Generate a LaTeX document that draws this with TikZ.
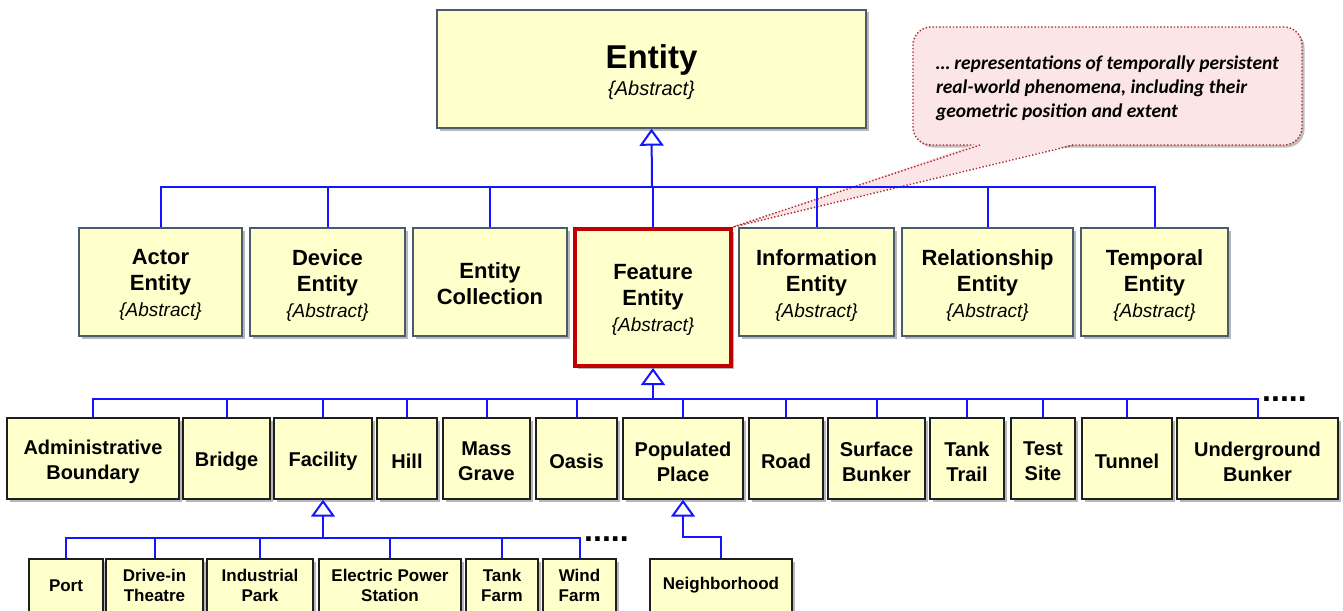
\documentclass[tikz,border=0pt]{standalone}
\usepackage{fontspec}
\setmainfont{Liberation Sans}
\newfontfamily\calfont{Carlito}
\usetikzlibrary{arrows.meta,shadows}
\definecolor{boxfill}{HTML}{FFFFCC}
\definecolor{slate}{HTML}{4B5B6E}
\definecolor{darkline}{HTML}{1F1F1F}
\definecolor{featred}{HTML}{C00000}
\definecolor{linkblue}{HTML}{1414FF}
\definecolor{calfill}{HTML}{FBE5E6}
\definecolor{calred}{HTML}{B0282C}
\newcommand\abstr[1][19]{{\mdseries\itshape\fontsize{#1}{26}\selectfont\{Abstract\}}}
% #1 box style, #2 text style, #3 name, #4 x1, #5 y1, #6 x2, #7 y2, #8 text shift (down), #9 text
\newcommand\mybox[9]{%
  \node[#1, minimum width={(#6-#4)*1pt}, minimum height={(#7-#5)*1pt}] (#3) at ({(#4+#6)/2},{(#5+#7)/2}) {};
  \node[#2] (#3-t) at ([yshift=-#8pt]#3.center) {#9};}
\tikzset{
  basebox/.style={fill=boxfill, inner sep=0pt,
    drop shadow={shadow xshift=2.5pt, shadow yshift=-2.5pt, opacity=0.28, fill=black}},
  slatebox/.style={basebox, draw=slate, line width=1.4pt},
  featbox/.style={basebox, draw=featred, line width=4pt},
  darkbox/.style={basebox, draw=darkline, line width=1.4pt},
  tx/.style={inner sep=0pt, align=center},
  toptext/.style={tx, font=\bfseries\fontsize{33}{27}\selectfont},
  midtext/.style={tx, font=\bfseries\fontsize{22}{26}\selectfont},
  lowtext/.style={tx, font=\bfseries\fontsize{20}{25}\selectfont},
  leaftext/.style={tx, font=\bfseries\fontsize{17}{20}\selectfont},
  link/.style={draw=linkblue, line width=2pt},
  inh/.style={link, -{Triangle[open, length=17pt, width=24pt, line width=2pt]}},
  callbox/.style={fill=calfill, draw=calred, dotted, line width=1.4pt, rounded corners=18pt,
    inner sep=0pt,
    drop shadow={shadow xshift=2.5pt, shadow yshift=-2.5pt, opacity=0.25, fill=black}},
  caltext/.style={inner sep=0pt, align=left, font=\calfont\bfseries\itshape\fontsize{19.5}{24}\selectfont},
  calline/.style={draw=calred, dotted, line width=1.4pt},
  moredots/.style={inner sep=0pt, anchor=base west, font=\bfseries\fontsize{32}{32}\selectfont}
}
\begin{document}
\begin{tikzpicture}[x=1pt,y=-1pt]
\useasboundingbox (0,0) rectangle (1343,610);
\clip (0,0) rectangle (1343,610);
\fill[white] (0,0) rectangle (1343,610);

% top
\mybox{slatebox}{toptext}{entity}{437}{10}{866}{128}{3.5}{Entity\\\abstr[20]}

% callout
\mybox{callbox}{caltext}{call}{913}{27}{1302}{145}{2}{… representations of temporally persistent\\real-world phenomena, including their\\geometric position and extent}

% row 2
\mybox{slatebox}{midtext}{actor}{79}{228}{242}{336}{3}{Actor\\Entity\\\abstr}
\mybox{slatebox}{midtext}{device}{250}{228}{405}{336}{3}{Device\\Entity\\\abstr}
\mybox{slatebox}{midtext}{coll}{413}{228}{567}{336}{2}{Entity\\Collection}
\mybox{featbox}{midtext}{feat}{575}{229}{731}{366}{2.5}{Feature\\Entity\\\abstr}
\mybox{slatebox}{midtext}{info}{739}{228}{894}{336}{3}{Information\\Entity\\\abstr}
\mybox{slatebox}{midtext}{rel}{902}{228}{1073}{336}{3}{Relationship\\Entity\\\abstr}
\mybox{slatebox}{midtext}{temp}{1081}{228}{1228}{336}{3}{Temporal\\Entity\\\abstr}

% callout tail
\fill[calfill] (978,143.3) -- (feat.north east) -- (1076,143.3) -- cycle;
\draw[calline] (980,145) -- (feat.north east) -- (1074,145);

% row 3
\mybox{darkbox}{lowtext}{admin}{7}{418}{179}{499}{3}{Administrative\\Boundary}
\mybox{darkbox}{lowtext}{bridge}{183}{418}{270}{499}{3}{Bridge}
\mybox{darkbox}{lowtext}{fac}{274}{418}{372}{499}{3}{Facility}
\mybox{darkbox}{lowtext}{hill}{377}{418}{437}{499}{3}{Hill}
\mybox{darkbox}{lowtext}{mass}{443}{418}{530}{499}{3}{Mass\\Grave}
\mybox{darkbox}{lowtext}{oasis}{536}{418}{617}{499}{3}{Oasis}
\mybox{darkbox}{lowtext}{pop}{623}{418}{743}{499}{3}{Populated\\Place}
\mybox{darkbox}{lowtext}{road}{749}{418}{823}{499}{3}{Road}
\mybox{darkbox}{lowtext}{surf}{828}{418}{925}{499}{3}{Surface\\Bunker}
\mybox{darkbox}{lowtext}{ttrail}{930}{418}{1004}{499}{3}{Tank\\Trail}
\mybox{darkbox}{lowtext}{test}{1011}{418}{1075}{499}{3}{Test\\Site}
\mybox{darkbox}{lowtext}{tunnel}{1082}{418}{1172}{499}{3}{Tunnel}
\mybox{darkbox}{lowtext}{under}{1177}{418}{1338}{499}{3}{Underground\\Bunker}

% row 4
\mybox{darkbox}{leaftext}{port}{29}{559}{103}{612}{0}{Port}
\mybox{darkbox}{leaftext}{drive}{106}{559}{203}{612}{0}{Drive-in\\Theatre}
\mybox{darkbox}{leaftext}{ind}{207}{559}{313}{612}{0}{Industrial\\Park}
\mybox{darkbox}{leaftext}{elec}{319}{559}{461}{612}{0}{Electric Power\\Station}
\mybox{darkbox}{leaftext}{tfarm}{466}{559}{538}{612}{0}{Tank\\Farm}
\mybox{darkbox}{leaftext}{wind}{543}{559}{616}{612}{0}{Wind\\Farm}
\mybox{darkbox}{leaftext}{neigh}{650}{559}{792}{612}{0}{Neighborhood}

% connectors level 1
\coordinate (b1) at (652,187);
\draw[inh] (b1) -- (entity.south);
\foreach \n in {actor,device,coll,feat,info,rel,temp} \draw[link] (\n.north) |- (b1);

% connectors level 2
\coordinate (b2) at (653,399);
\draw[inh] (b2) -- (feat.south);
\foreach \n in {admin,bridge,fac,hill,mass,oasis,pop,road,surf,ttrail,test,tunnel,under} \draw[link] (\n.north) |- (b2);
\node[moredots] (dots1) at (1262,401.5) {.....};

% connectors level 3
\coordinate (b3) at (323,538);
\draw[inh] (b3) -- (fac.south);
\foreach \n in {port,drive,ind,elec,tfarm,wind} \draw[link] (\n.north) |- (b3);
\node[moredots] (dots2) at (584,541.5) {.....};

\coordinate (b4) at (721,537);
\draw[inh] (neigh.north) -- (b4) -| (pop.south);
\end{tikzpicture}
\end{document}
